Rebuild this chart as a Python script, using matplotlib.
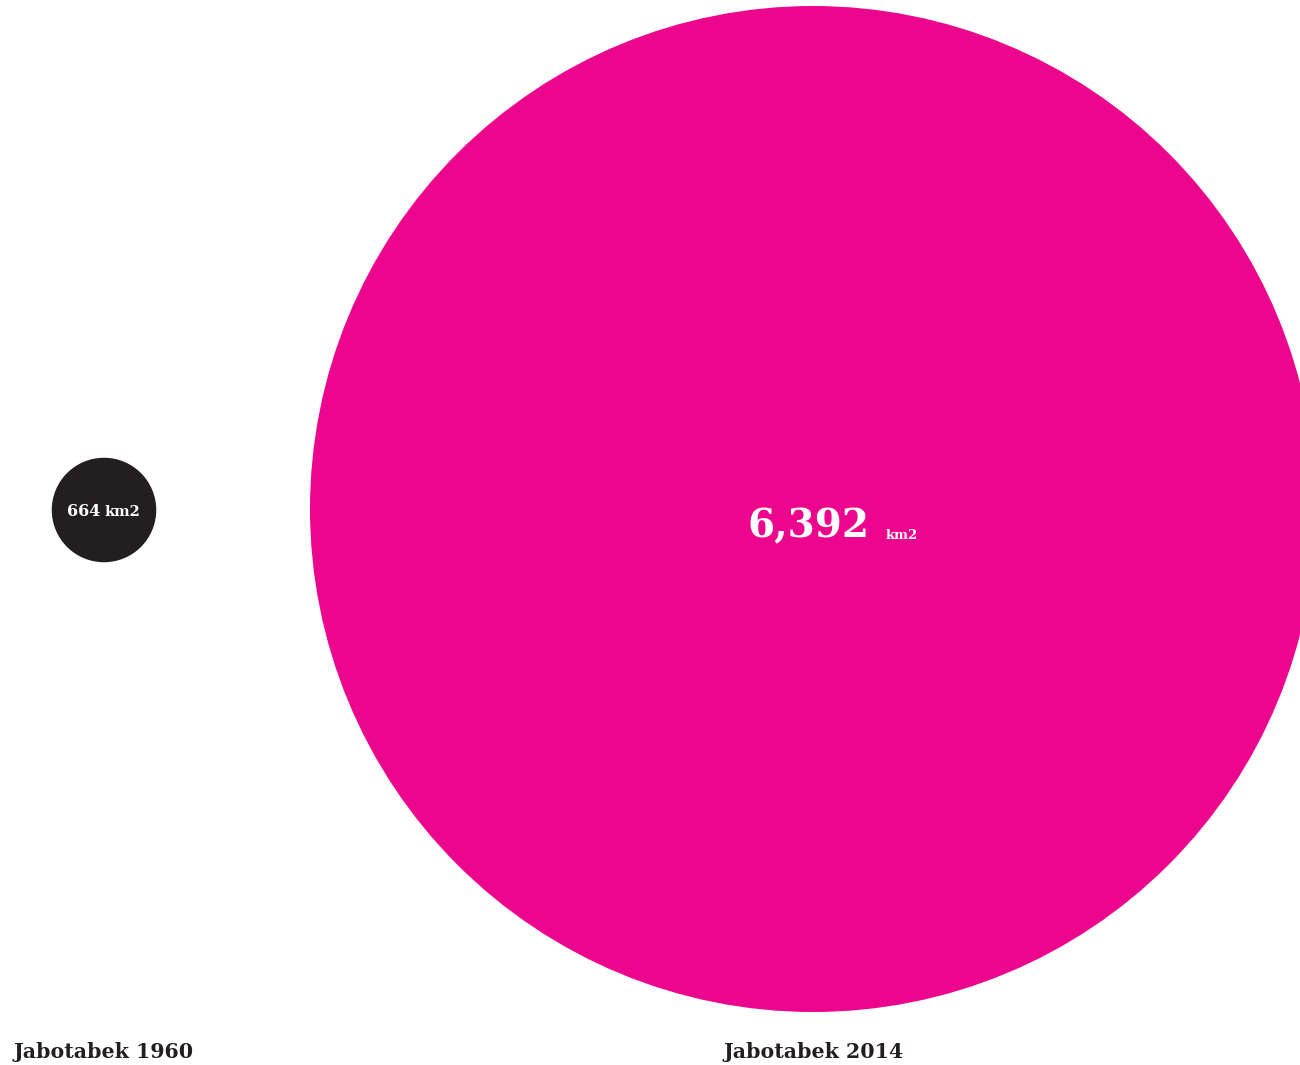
import matplotlib.pyplot as plt
from matplotlib.patches import Circle

labels = ["Jabotabek 1960", "Jabotabek 2014"]
areas_km2 = [664, 6392]
value_text = ["664", "6,392"]
colors = ["#231F20", "#EC068D"]

W, H = 1300, 1065
centers = [(104, 510), (813, 509)]
scale = 503 / max(areas_km2)  # px radius per km2

plt.rcParams["font.family"] = ["DejaVu Serif"]

fig = plt.figure(figsize=(W / 100, H / 100), dpi=100)
ax = fig.add_axes([0, 0, 1, 1])
ax.set_xlim(0, W)
ax.set_ylim(H, 0)
ax.set_aspect("equal")
ax.axis("off")

for (cx, cy), a, c in zip(centers, areas_km2, colors):
    ax.add_patch(Circle((cx, cy), a * scale, color=c, lw=0))

# small circle label
ax.text(100, 516, value_text[0], ha="right", va="baseline", color="white",
        fontsize=11.5, fontweight="bold")
ax.text(104, 516, "km2", ha="left", va="baseline", color="white",
        fontsize=10.5, fontweight="bold")

# big circle label
ax.text(870, 537, value_text[1], ha="right", va="baseline", color="white",
        fontsize=28, fontweight="bold")
ax.text(886, 539, "km2", ha="left", va="baseline", color="white",
        fontsize=9.5, fontweight="bold")

# category labels under circles
ax.text(14, 1058, labels[0], ha="left", va="baseline", color="#231F20",
        fontsize=14.8, fontweight="bold")
ax.text(723, 1058, labels[1], ha="left", va="baseline", color="#231F20",
        fontsize=14.8, fontweight="bold")

fig.savefig("out.png", dpi=100)
